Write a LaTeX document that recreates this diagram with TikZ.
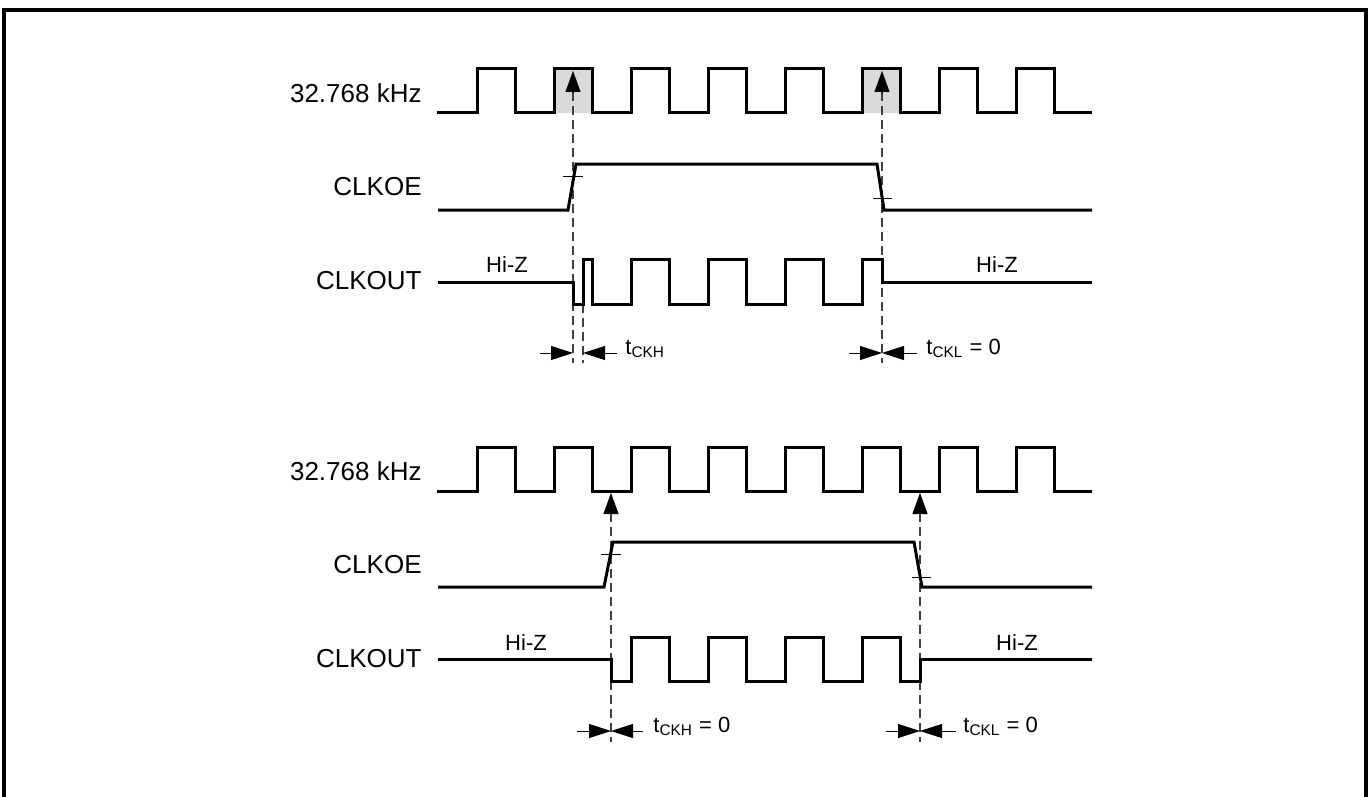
\documentclass[tikz,border=0pt]{standalone}
\usepackage{fontspec}
\setmainfont{Liberation Sans}
\usetikzlibrary{arrows.meta}
\tikzset{
	sig/.style={line width=1.5pt,line join=miter},
	guide/.style={black!75,line width=0.6pt,dash pattern=on 4.5pt off 2.5pt},
	oemark/.style={line width=0.5pt},
	dimarrow/.style={line width=0.5pt,-{Triangle[length=11pt,width=7pt]}},
	uparrow/.style={line width=0.5pt,-{Triangle[length=10.5pt,width=7.5pt]}},
	siglabel/.style={anchor=east,inner sep=0pt,font=\fontsize{13}{15}\selectfont},
	smalltext/.style={inner sep=0pt,font=\fontsize{11}{13}\selectfont},
}
\begin{document}
\begin{tikzpicture}[x=0.5pt,y=-0.5pt]
	\useasboundingbox (0,0) rectangle (1370,797);
	\draw[line width=2pt] (4,797) -- (4,10) -- (1366,10) -- (1366,797);
	% sampled clock pulses
	\fill[black!15] (554,69) rectangle (592,113) (862,69) rectangle (900,113);
	% clock and names, both panels
	\foreach \p/\d in {a/0,b/378}{
		\begin{scope}[shift={(0,\d)}]
			\node[siglabel] (clk\p) at (422,93) {32.768 kHz};
			\node[siglabel] (oe\p) at (422,187) {CLKOE};
			\node[siglabel] (out\p) at (422,281) {CLKOUT};
			\draw[sig] (437,113) foreach \k in {0,...,7}{ -- ({477+77*\k},113) -- ({477+77*\k},69) -- ({515.5+77*\k},69) -- ({515.5+77*\k},113)} -- (1092,113);
		\end{scope}
	}
	% upper panel
	\path (573,92) coordinate (ua) (882,92) coordinate (ub)
		(573,363) coordinate (ua') (882,363) coordinate (ub')
		(583,304) coordinate (uc) (583,363) coordinate (uc');
	\draw[guide] (ua) -- (ua') (ub) -- (ub') (uc) -- (uc');
	\draw[uparrow] (ua) -- ++(0,-21);
	\draw[uparrow] (ub) -- ++(0,-21);
	\draw[sig] (438,210) -- (568,210) -- (576,164) -- (877,164) -- (884,210) -- (1092,210);
	\draw[oemark] (563,176) -- (583,176) (873,198) -- (892,198);
	\draw[sig] (438,282) -- (573,282) -- (573,304) -- (583,304) -- (583,259) -- (592,259) -- (592,304)
		foreach \k in {0,1,2}{ -- ({631+77*\k},304) -- ({631+77*\k},259) -- ({669.5+77*\k},259) -- ({669.5+77*\k},304)}
		-- (862,304) -- (862,259) -- (882,259) -- (882,282) -- (1092,282);
	% lower panel
	\path (611,513) coordinate (la) (920,513) coordinate (lb)
		(611,742) coordinate (la') (920,742) coordinate (lb');
	\draw[guide] (la) -- (la') (lb) -- (lb');
	\draw[uparrow] (la) -- ++(0,-20);
	\draw[uparrow] (lb) -- ++(0,-20);
	\draw[sig] (438,587) -- (604,587) -- (613,542) -- (914,542) -- (922,587) -- (1092,587);
	\draw[oemark] (601,554) -- (621,554) (912,577) -- (931,577);
	\draw[sig] (438,659) -- (611,659) -- (611,681)
		foreach \k in {0,...,3}{ -- ({631+77*\k},681) -- ({631+77*\k},637) -- ({669.5+77*\k},637) -- ({669.5+77*\k},681)}
		-- (920,681) -- (920,659) -- (1092,659);
	% Hi-Z states
	\foreach \n/\x/\y in {za/507/265,zb/997/265,zc/526/643,zd/1017/643}{
		\node[smalltext] (\n) at (\x,\y) {Hi-Z};
	}
	% timing marks
	\foreach \la/\lb/\ra/\rb/\y/\lx/\txt in {540/573/617/583/353/625/t\textsubscript{CKH},
		849/882/917/882/353/926/t\textsubscript{CKL} = 0,
		577/611/643/611/731/653/t\textsubscript{CKH} = 0,
		886/920/956/920/731/963/t\textsubscript{CKL} = 0}{
		\path (\la,\y) coordinate (p) (\lb,\y) coordinate (q) (\ra,\y) coordinate (r) (\rb,\y) coordinate (s);
		\draw[dimarrow] (p) -- (q);
		\draw[dimarrow] (r) -- (s);
		\node[smalltext,anchor=base west] (t\lx) at (\lx,\y+1) {\txt};
	}
\end{tikzpicture}
\end{document}
